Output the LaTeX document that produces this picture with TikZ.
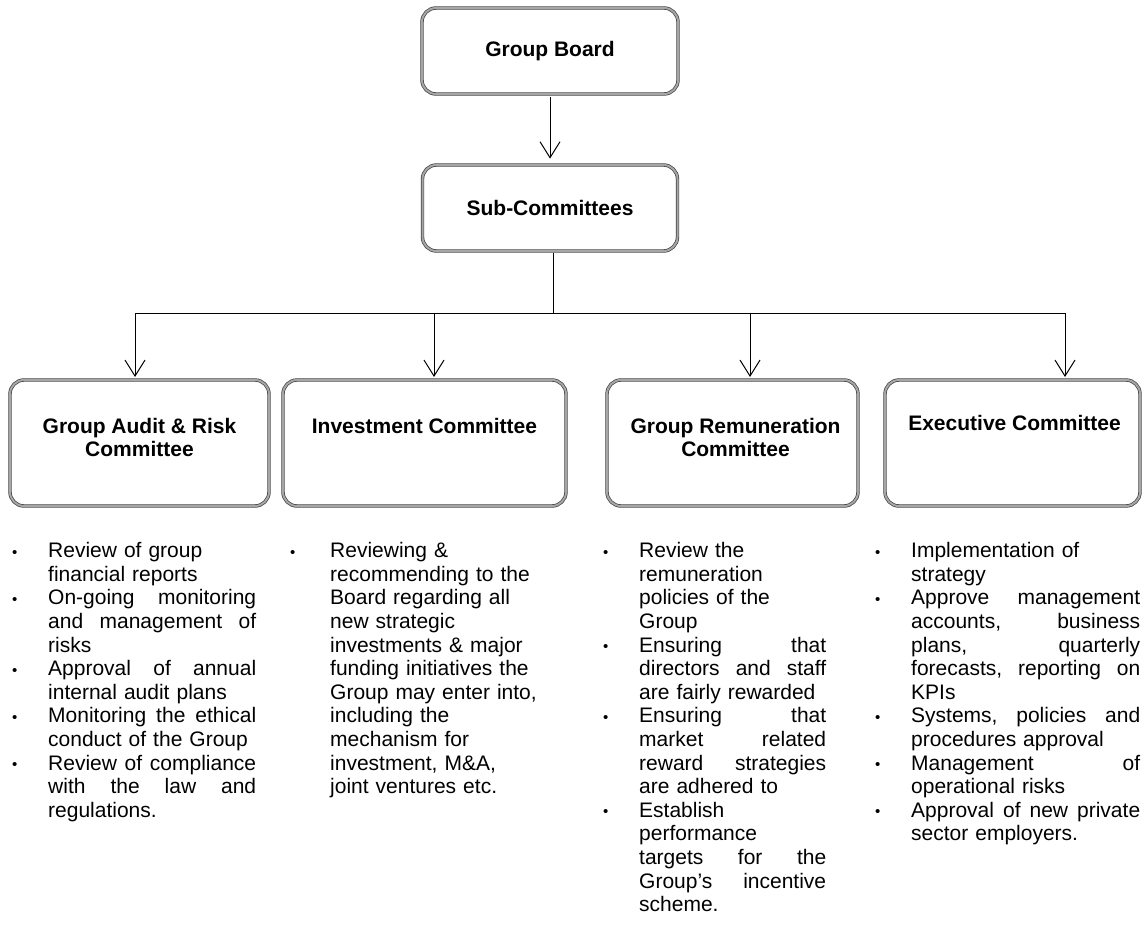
\documentclass[tikz,border=0pt]{standalone}
\usepackage{fontspec}
\setmainfont{Liberation Sans}
\usetikzlibrary{arrows.meta}
\setlength{\parindent}{0pt}
\newcommand{\bul}[1][36pt]{\strut\llap{\makebox[#1][l]{\raisebox{0.5pt}{\fontsize{15}{15}\selectfont\textbullet}}}}
\newcommand{\jst}[2]{\leavevmode\hbox to #1{#2}}

\begin{document}
\begin{tikzpicture}[x=1pt, y=-1pt,
    box/.style={draw=black!75, double=black!35, double distance=2pt, line width=0.7pt, rounded corners=14pt, inner sep=0pt},
    head/.style={font=\fontsize{21}{23.5}\selectfont\bfseries, align=center, inner sep=0pt},
    arr/.style={-{Straight Barb[length=16pt,width=20pt]}, line width=1pt},
    items/.style={anchor=north west, inner sep=0pt, align=left, font=\fontsize{21}{23.6}\selectfont}]
    % --- 1. page frame ---
    \useasboundingbox (0,0) rectangle (1142,925);
    \def\yC{443}
    \def\wA{208pt}
    \def\wC{187pt}
    \def\wD{229pt}

    % --- 2. board and sub-committees ---
    \node[box, head, minimum width=256pt, minimum height=86pt] (board) at (550,51) {Group Board};
    \node[box, head, minimum width=255pt, minimum height=86pt] (sub) at (550,208) {Sub-Committees};

    % --- 3. committee boxes ---
    \node[box, minimum width=259pt, minimum height=126pt] (audit) at (139.5,\yC) {};
    \node[box, minimum width=283pt, minimum height=126pt] (invest) at (424.5,\yC) {};
    \node[box, minimum width=251pt, minimum height=126pt] (remun) at (732.5,\yC) {};
    \node[box, minimum width=255pt, minimum height=126pt] (exec) at (1012.5,\yC) {};

    \node[head, anchor=north] (auditT) at ([yshift=-38pt]audit.north) {Group Audit \& Risk\\Committee};
    \node[head, anchor=north] (investT) at ([yshift=-38pt]invest.north) {Investment Committee};
    \node[head, anchor=north] (remunT) at ([xshift=3pt, yshift=-38pt]remun.north) {Group Remuneration\\Committee};
    \node[head, anchor=north] (execT) at ([xshift=2pt, yshift=-35pt]exec.north) {Executive Committee};

    % --- 4. connectors ---
    \draw[arr, shorten <=3pt, shorten >=6pt] (board) -- (sub);
    \coordinate (bus) at (553,313);
    \coordinate (tA) at (135,380);
    \coordinate (tB) at (434,380);
    \coordinate (tC) at (750,380);
    \coordinate (tD) at (1065,380);
    \draw[line width=1pt, shorten <=2pt] (sub.south -| bus) -- (bus);
    \draw[line width=1pt] (tA |- bus) -- (tD |- bus);
    \foreach \t in {tA,tB,tC,tD}
        \draw[arr, shorten >=3pt] (\t |- bus) -- (\t);

    % --- 5. duties ---
    \node[items, text width=\wA] (auditL) at (48,541) {%
        \bul Review of group\\
        financial reports\\
        \bul\jst{\wA}{On-going\hfill monitoring}\\
        \jst{\wA}{and\hfill management\hfill of}\\
        risks\\
        \bul\jst{\wA}{Approval\hfill of\hfill annual}\\
        internal audit plans\\
        \bul\jst{\wA}{Monitoring\hfill the\hfill ethical}\\
        conduct of the Group\\
        \bul\jst{\wA}{Review\hfill of\hfill compliance}\\
        \jst{\wA}{with\hfill the\hfill law\hfill and}\\
        regulations.};
    \node[items, text width=215pt] (investL) at (330,541) {%
        \bul[40pt]Reviewing \&\\
        recommending to the\\
        Board regarding all\\
        new strategic\\
        investments \& major\\
        funding initiatives the\\
        Group may enter into,\\
        including the\\
        mechanism for\\
        investment, M\&A,\\
        joint ventures etc.};
    \node[items, text width=\wC] (remunL) at (639,541) {%
        \bul Review the\\
        remuneration\\
        policies of the\\
        Group\\
        \bul\jst{\wC}{Ensuring\hfill that}\\
        \jst{\wC}{directors\hfill and\hfill staff}\\
        are fairly rewarded\\
        \bul\jst{\wC}{Ensuring\hfill that}\\
        \jst{\wC}{market\hfill related}\\
        \jst{\wC}{reward\hfill strategies}\\
        are adhered to\\
        \bul Establish\\
        performance\\
        \jst{\wC}{targets\hfill for\hfill the}\\
        \jst{\wC}{Group\char"27 s\hfill incentive}\\
        scheme.};
    \node[items, text width=\wD] (execL) at (911,541) {%
        \bul Implementation of\\
        strategy\\
        \bul\jst{\wD}{Approve\hfill management}\\
        \jst{\wD}{accounts,\hfill business}\\
        \jst{\wD}{plans,\hfill quarterly}\\
        \jst{\wD}{forecasts,\hfill reporting\hfill on}\\
        KPIs\\
        \bul\jst{\wD}{Systems,\hfill policies\hfill and}\\
        procedures approval\\
        \bul\jst{\wD}{Management\hfill of}\\
        operational risks\\
        \bul\jst{\wD}{Approval\hfill of\hfill new\hfill private}\\
        sector employers.};
\end{tikzpicture}
\end{document}
